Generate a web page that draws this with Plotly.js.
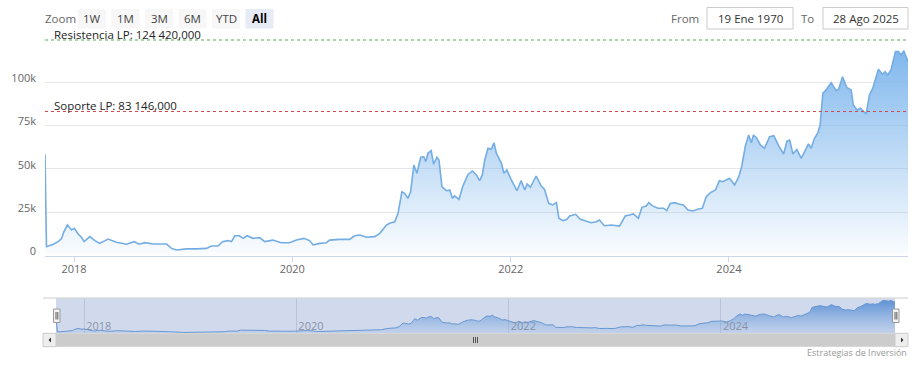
<!DOCTYPE html>
<html>
<head>
<meta charset="utf-8">
<script src="https://cdn.plot.ly/plotly-3.0.1.min.js"></script>
<style>html,body{margin:0;padding:0;background:#fff}#chart{width:921px;height:369px}</style>
</head>
<body>
<div id="chart"></div>
<script>
const dates = ["2017-09-26","2017-10-01","2017-10-24","2017-11-09","2017-11-21","2017-11-28","2017-12-10","2017-12-24","2018-01-02","2018-01-15","2018-01-26","2018-02-04","2018-02-23","2018-03-12","2018-03-28","2018-04-25","2018-05-23","2018-06-26","2018-07-21","2018-08-07","2018-08-26","2018-09-23","2018-11-07","2018-11-23","2018-12-10","2019-01-12","2019-02-15","2019-03-20","2019-04-06","2019-04-28","2019-05-13","2019-05-31","2019-06-12","2019-06-23","2019-07-08","2019-07-21","2019-08-03","2019-08-23","2019-09-14","2019-10-01","2019-10-28","2019-11-25","2019-12-23","2020-01-15","2020-02-09","2020-02-28","2020-03-11","2020-04-02","2020-04-24","2020-05-05","2020-06-08","2020-07-11","2020-07-28","2020-08-14","2020-09-05","2020-10-03","2020-10-20","2020-11-11","2020-11-22","2020-12-09","2020-12-20","2021-01-02","2021-01-11","2021-01-22","2021-01-31","2021-02-11","2021-02-21","2021-03-06","2021-03-16","2021-03-23","2021-03-30","2021-04-10","2021-04-18","2021-04-29","2021-05-06","2021-05-16","2021-05-31","2021-06-11","2021-06-20","2021-06-27","2021-07-12","2021-07-25","2021-08-11","2021-08-26","2021-09-08","2021-09-19","2021-09-28","2021-10-06","2021-10-17","2021-10-28","2021-11-06","2021-11-14","2021-12-01","2021-12-09","2021-12-19","2022-01-03","2022-01-22","2022-02-05","2022-02-17","2022-02-25","2022-03-08","2022-03-27","2022-04-13","2022-04-24","2022-05-08","2022-05-22","2022-06-03","2022-06-11","2022-06-25","2022-07-08","2022-07-17","2022-08-06","2022-08-22","2022-09-08","2022-09-27","2022-10-14","2022-10-25","2022-11-10","2022-12-03","2022-12-31","2023-01-19","2023-02-02","2023-02-15","2023-03-04","2023-03-16","2023-03-30","2023-04-08","2023-04-19","2023-05-08","2023-05-27","2023-06-07","2023-06-19","2023-07-03","2023-07-17","2023-08-02","2023-08-17","2023-09-02","2023-09-19","2023-10-04","2023-10-17","2023-10-31","2023-11-17","2023-11-30","2023-12-11","2023-12-23","2024-01-03","2024-01-20","2024-02-03","2024-02-13","2024-02-25","2024-03-07","2024-03-16","2024-03-23","2024-04-03","2024-04-15","2024-04-29","2024-05-16","2024-05-30","2024-06-16","2024-07-02","2024-07-13","2024-07-22","2024-08-02","2024-08-15","2024-08-30","2024-09-13","2024-09-23","2024-10-02","2024-10-13","2024-10-24","2024-11-01","2024-11-10","2024-11-21","2024-12-08","2024-12-25","2025-01-02","2025-01-15","2025-01-29","2025-02-13","2025-02-20","2025-03-05","2025-03-16","2025-03-27","2025-04-04","2025-04-15","2025-04-26","2025-05-15","2025-05-29","2025-06-06","2025-06-15","2025-06-26","2025-07-11","2025-07-21","2025-07-30","2025-08-08","2025-08-22"];
const prices = [58400,5100,6500,8000,9900,13700,17600,14700,15700,12400,10500,8000,10900,8600,7000,9500,7600,6500,8000,6500,7400,6600,6600,4100,3200,3800,3800,4100,5500,5500,8000,8600,8000,11400,11400,9900,11400,9900,10300,8000,8900,7400,7400,8900,9900,8600,6100,7000,7400,8900,9300,9300,11400,11800,10500,10900,12800,17600,18600,19500,24400,36800,35900,33000,36800,52300,47500,56700,57000,54200,59000,60500,52700,56700,55100,39700,37400,37800,33000,34400,32400,40100,46800,48800,46500,43200,46500,55100,61900,61300,65100,59000,53200,47500,49400,43600,37400,43200,37800,41300,39400,45900,40100,38200,30100,29200,30500,21500,20100,20900,22800,23800,20900,19900,18900,19500,20500,17200,17600,17000,22800,23400,24000,21500,27800,28600,30500,28800,27300,27300,25900,30100,30500,29700,29200,26300,25700,26700,27300,34000,36300,37800,43200,42600,43600,44600,40700,45500,51700,63200,69600,65100,69600,67700,63800,61900,68600,69200,63200,58600,66100,66700,58600,61300,56100,60900,64400,61900,67700,70600,75300,93600,95600,99800,95200,96000,103200,97100,95600,86900,84000,85000,83000,81700,92700,96500,107500,104600,106100,104200,107100,117700,117700,115800,118200,111900];

const yTickVals = [0,25000,50000,75000,100000];
const yTickText = ["0","25k","50k","75k","100k"];
const xTickVals = ["2018-01-01","2020-01-01","2022-01-01","2024-01-01"];
const xTickText = ["2018","2020","2022","2024"];
const levelValues = [124420, 83146];
const levelLabels = ["Resistencia LP: 124 420,000", "Soporte LP: 83 146,000"];
const levelColors = ["#5aa85a", "#d24a4a"];
const zoomButtons = ["1W","1M","3M","6M","YTD","All"];
const fromDate = "19 Ene 1970";
const toDate = "28 Ago 2025";
const xRange = ["2017-09-26","2025-08-22"];

const W = 921, H = 369;
const px = v => v / W;
const py = v => 1 - v / H;
const FONT = "Open Sans, Noto Sans, sans-serif";

const grad = {type: "vertical", start: 0, stop: 120000,
  colorscale: [[0, "rgba(124,181,236,0.03)"], [1, "rgba(124,181,236,0.98)"]]};

const traces = [
  {x: dates, y: prices, type: "scatter", mode: "lines", xaxis: "x", yaxis: "y",
   line: {color: "#74ade3", width: 1.6}, fill: "tozeroy", fillgradient: grad, hoverinfo: "x+y"},
  {x: dates, y: prices, type: "scatter", mode: "lines", xaxis: "x2", yaxis: "y2",
   line: {color: "#6a9fd8", width: 1}, fill: "tozeroy",
   fillgradient: {type: "vertical", start: 0, stop: 120000,
     colorscale: [[0, "rgba(124,181,236,0.15)"], [1, "rgba(90,150,220,1)"]]}, hoverinfo: "skip"}
];

const shapes = [];
const annotations = [];

levelValues.forEach((v, i) => {
  shapes.push({type: "line", xref: "paper", yref: "y", x0: px(45), x1: px(908), y0: v, y1: v,
    line: {color: levelColors[i], width: 1.2, dash: "dot"}, layer: "above"});
  annotations.push({xref: "paper", yref: "y", x: px(53), y: v, text: levelLabels[i], showarrow: false,
    xanchor: "left", yanchor: "bottom", yshift: -3, borderpad: 0,
    font: {family: FONT, size: 11.5, color: "#222"}});
});

annotations.push({xref: "paper", yref: "paper", x: px(44), y: py(18.5), text: "Zoom", showarrow: false,
  xanchor: "left", yanchor: "middle", borderpad: 0, font: {family: FONT, size: 11.5, color: "#666"}});
zoomButtons.forEach((b, i) => {
  const x0 = 78 + i * 33.5, sel = (b === "All");
  shapes.push({type: "rect", xref: "paper", yref: "paper", x0: px(x0), x1: px(x0 + 28), y0: py(28.5), y1: py(9),
    fillcolor: sel ? "#e6ebf5" : "#f7f7f7", line: {width: 0}});
  annotations.push({xref: "paper", yref: "paper", x: px(x0 + 14), y: py(18.5), text: sel ? "<b>" + b + "</b>" : b,
    showarrow: false, xanchor: "center", yanchor: "middle", borderpad: 0,
    font: {family: FONT, size: 11.5, color: sel ? "#000" : "#444"}});
});
annotations.push({xref: "paper", yref: "paper", x: px(700), y: py(18.5), text: "From", showarrow: false,
  xanchor: "right", yanchor: "middle", borderpad: 0, font: {family: FONT, size: 11.5, color: "#666"}});
annotations.push({xref: "paper", yref: "paper", x: px(815), y: py(18.5), text: "To", showarrow: false,
  xanchor: "right", yanchor: "middle", borderpad: 0, font: {family: FONT, size: 11.5, color: "#666"}});
[[707, 793, fromDate], [823, 908, toDate]].forEach(([a, b, t]) => {
  shapes.push({type: "rect", xref: "paper", yref: "paper", x0: px(a), x1: px(b), y0: py(29), y1: py(7.5),
    fillcolor: "#fff", line: {color: "#cccccc", width: 1}});
  annotations.push({xref: "paper", yref: "paper", x: px((a + b) / 2), y: py(18.5), text: t, showarrow: false,
    xanchor: "center", yanchor: "middle", borderpad: 0, font: {family: FONT, size: 11.5, color: "#333"}});
});

shapes.push({type: "rect", xref: "paper", yref: "paper", x0: px(56), x1: px(895), y0: py(333.3), y1: py(298.3),
  fillcolor: "rgba(102,133,194,0.3)", line: {width: 0}, layer: "above"});
shapes.push({type: "line", xref: "paper", yref: "paper", x0: px(43), x1: px(908), y0: py(298), y1: py(298),
  line: {color: "#cccccc", width: 1}});
[[53.5, 60], [892.5, 899]].forEach(([a, b]) => {
  shapes.push({type: "rect", xref: "paper", yref: "paper", x0: px(a), x1: px(b), y0: py(322.5), y1: py(309),
    fillcolor: "#f2f2f2", line: {color: "#999999", width: 1}, layer: "above"});
  [a + 2.5, a + 4.3].forEach(lx => shapes.push({type: "line", xref: "paper", yref: "paper", x0: px(lx), x1: px(lx),
    y0: py(319.5), y1: py(312), line: {color: "#333", width: 0.8}, layer: "above"}));
});

shapes.push({type: "rect", xref: "paper", yref: "paper", x0: px(43), x1: px(908), y0: py(346.7), y1: py(333.3),
  fillcolor: "#f2f2f2", line: {width: 0}});
shapes.push({type: "rect", xref: "paper", yref: "paper", x0: px(56), x1: px(895), y0: py(346.7), y1: py(333.3),
  fillcolor: "#cccccc", line: {width: 0}});
[[43, 56], [895, 908]].forEach(([a, b]) => {
  shapes.push({type: "rect", xref: "paper", yref: "paper", x0: px(a), x1: px(b), y0: py(346.7), y1: py(333.3),
    fillcolor: "#eeeeee", line: {color: "#cccccc", width: 1}});
});
shapes.push({type: "path", xref: "paper", yref: "paper",
  path: `M ${px(48.5)} ${py(340)} L ${px(51)} ${py(337.5)} L ${px(51)} ${py(342.5)} Z`,
  fillcolor: "#333", line: {width: 0}});
shapes.push({type: "path", xref: "paper", yref: "paper",
  path: `M ${px(903.5)} ${py(340)} L ${px(901)} ${py(337.5)} L ${px(901)} ${py(342.5)} Z`,
  fillcolor: "#333", line: {width: 0}});
[473.5, 475.5, 477.5].forEach(lx => shapes.push({type: "line", xref: "paper", yref: "paper",
  x0: px(lx), x1: px(lx), y0: py(343), y1: py(337), line: {color: "#333", width: 0.8}}));

annotations.push({xref: "paper", yref: "paper", x: px(908), y: py(352.5), text: "Estrategias de Inversión",
  showarrow: false, xanchor: "right", yanchor: "middle", borderpad: 0, font: {family: FONT, size: 9, color: "#999"}});

const layout = {
  width: W, height: H, margin: {l: 0, r: 0, t: 0, b: 0, pad: 0},
  paper_bgcolor: "#fff", plot_bgcolor: "rgba(0,0,0,0)", showlegend: false,
  font: {family: FONT, size: 11, color: "#666"},
  xaxis: {type: "date", domain: [px(45), px(908)], range: xRange, anchor: "y",
    tickvals: xTickVals, ticktext: xTickText, ticks: "outside", ticklen: 5, tickcolor: "#ccd6eb",
    showgrid: false, showline: true, linecolor: "#ccd6eb", linewidth: 1, zeroline: false,
    ticklabelstandoff: -2,
    tickfont: {family: FONT, size: 11, color: "#666"}, fixedrange: true},
  yaxis: {domain: [py(255.5), py(39)], range: [0, 125000], anchor: "x",
    tickvals: yTickVals, ticktext: yTickText, showgrid: true, gridcolor: "#e6e6e6", zeroline: false,
    showline: false, ticks: "", ticklabelstandoff: 8, ticklabelshift: -4,
    tickfont: {family: FONT, size: 11, color: "#666"}, fixedrange: true},
  xaxis2: {type: "date", domain: [px(56), px(895)], range: xRange, anchor: "y2",
    tickvals: xTickVals, ticktext: xTickText, ticks: "", showgrid: true, gridcolor: "#e0e0e0",
    showline: false, zeroline: false, ticklabelposition: "inside right", ticklabelstandoff: -5,
    ticklabelshift: 2,
    tickfont: {family: FONT, size: 11, color: "#999"}, fixedrange: true},
  yaxis2: {domain: [py(333.3), py(298.3)], range: [0, 126000], anchor: "x2", visible: false,
    showgrid: false, zeroline: false, fixedrange: true},
  shapes: shapes, annotations: annotations
};

Plotly.newPlot("chart", traces, layout, {displayModeBar: false, staticPlot: true});
</script>
</body>
</html>
